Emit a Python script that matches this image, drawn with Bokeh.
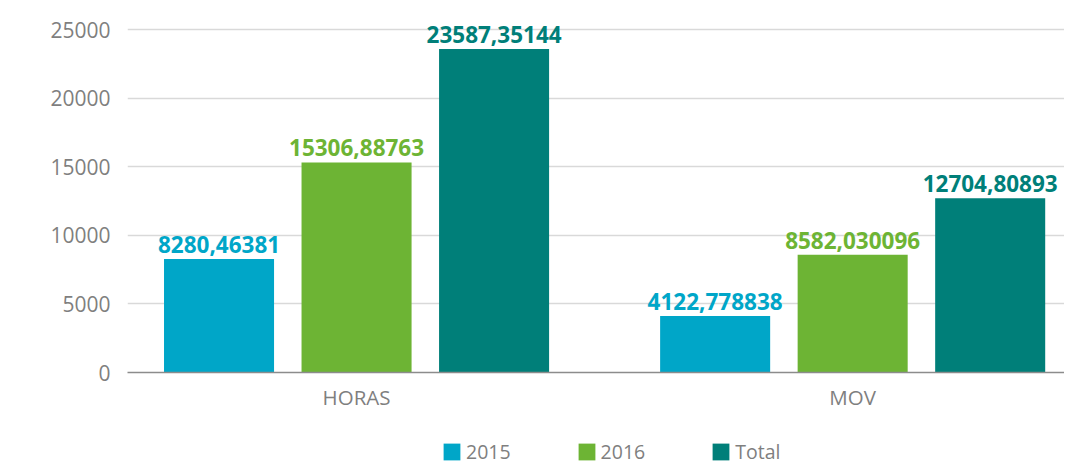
from bokeh.plotting import figure
from bokeh.layouts import column
from bokeh.models import ColumnDataSource, Range1d, FixedTicker, Legend, LegendItem
from bokeh.transform import dodge
from bokeh.core.properties import value
from bokeh.embed import file_html
from bokeh.resources import INLINE

categories = ["HORAS", "MOV"]
series = ["2015", "2016", "Total"]
v2015 = [8280.46381, 4122.778838]
v2016 = [15306.88763, 8582.030096]
vtotal = [23587.35144, 12704.80893]
lab2015 = ["8280,46381", "4122,778838"]
lab2016 = ["15306,88763", "8582,030096"]
labtotal = ["23587,35144", "12704,80893"]
y_ticks = [0, 5000, 10000, 15000, 20000, 25000]

colors = ["#00A6C8", "#6DB434", "#007F79"]
label_colors = ["#00A6C8", "#6DB434", "#007F79"]
gray = "#7F7F7F"
FONT = "Open Sans"

xs = [i + 0.5 for i in range(len(categories))]
src = ColumnDataSource(dict(x=xs, cat=categories,
                            v2015=v2015, v2016=v2016, vtotal=vtotal,
                            l2015=lab2015, l2016=lab2016, ltotal=labtotal))

p = figure(width=1064, height=425, output_backend="svg", toolbar_location=None,
           x_range=Range1d(0.0383, 1.927), y_range=Range1d(0, 26385),
           min_border_left=127, min_border_right=0, min_border_top=10,
           min_border_bottom=53)
p.outline_line_color = None

offsets = [-0.2772, 0.0, 0.2772]
width = 0.2218
cols = ["v2015", "v2016", "vtotal"]
labs = ["l2015", "l2016", "ltotal"]
for off, col, lab, c, lc in zip(offsets, cols, labs, colors, label_colors):
    p.vbar(x=dodge("x", off, range=p.x_range), top=col, width=width, source=src,
           fill_color=c, line_color=None)
    p.text(x=dodge("x", off, range=p.x_range), y=col, text=lab, source=src,
           text_align="center", text_baseline="bottom", y_offset=-6,
           text_font=value(FONT), text_font_style="bold", text_font_size="22.5px",
           text_color=lc)

p.xgrid.grid_line_color = None
p.ygrid.grid_line_color = "#D9D9D9"
p.ygrid.grid_line_width = 1.5
p.yaxis.ticker = FixedTicker(ticks=y_ticks)
p.yaxis.axis_line_color = None
p.yaxis.major_tick_line_color = None
p.yaxis.minor_tick_line_color = None
p.yaxis.major_label_standoff = 11
p.yaxis.major_label_text_font = FONT
p.yaxis.major_label_text_font_size = "21px"
p.yaxis.major_label_text_color = gray

p.xaxis.ticker = FixedTicker(ticks=xs)
p.xaxis.major_label_overrides = {x: c for x, c in zip(xs, categories)}
p.xaxis.axis_line_color = "#8C8C8C"
p.xaxis.axis_line_width = 1.5
p.xaxis.major_tick_line_color = None
p.xaxis.minor_tick_line_color = None
p.xaxis.major_label_standoff = 4
p.xaxis.major_label_text_font = FONT
p.xaxis.major_label_text_font_size = "20.5px"
p.xaxis.major_label_text_color = gray

# legend strip below the chart (its frame is aligned with the chart's frame)
lg = figure(width=1064, height=40, output_backend="svg", toolbar_location=None,
            x_axis_location=None, y_axis_location=None,
            min_border_left=0, min_border_right=0, min_border_top=0, min_border_bottom=0)
lg.outline_line_color = None
lg.xgrid.visible = False
lg.ygrid.visible = False
placeholder = ColumnDataSource(dict(x=[float("nan")], top=[float("nan")]))
legend_renderers = [lg.vbar(x="x", top="top", width=1, source=placeholder,
                            fill_color=c, line_color=None)
                    for c in colors]
items = [LegendItem(label=s, renderers=[r]) for s, r in zip(series, legend_renderers)]
legend = Legend(items=items, orientation="horizontal", location=(314, 0),
                glyph_width=21, glyph_height=21, label_standoff=4, spacing=65,
                padding=0, margin=0, border_line_color=None, background_fill_alpha=0,
                label_text_font=FONT, label_text_font_size="19.5px",
                label_text_color=gray)
lg.add_layout(legend)

layout = column(p, lg, spacing=0)
open("out.html", "w").write(file_html(layout, INLINE))
